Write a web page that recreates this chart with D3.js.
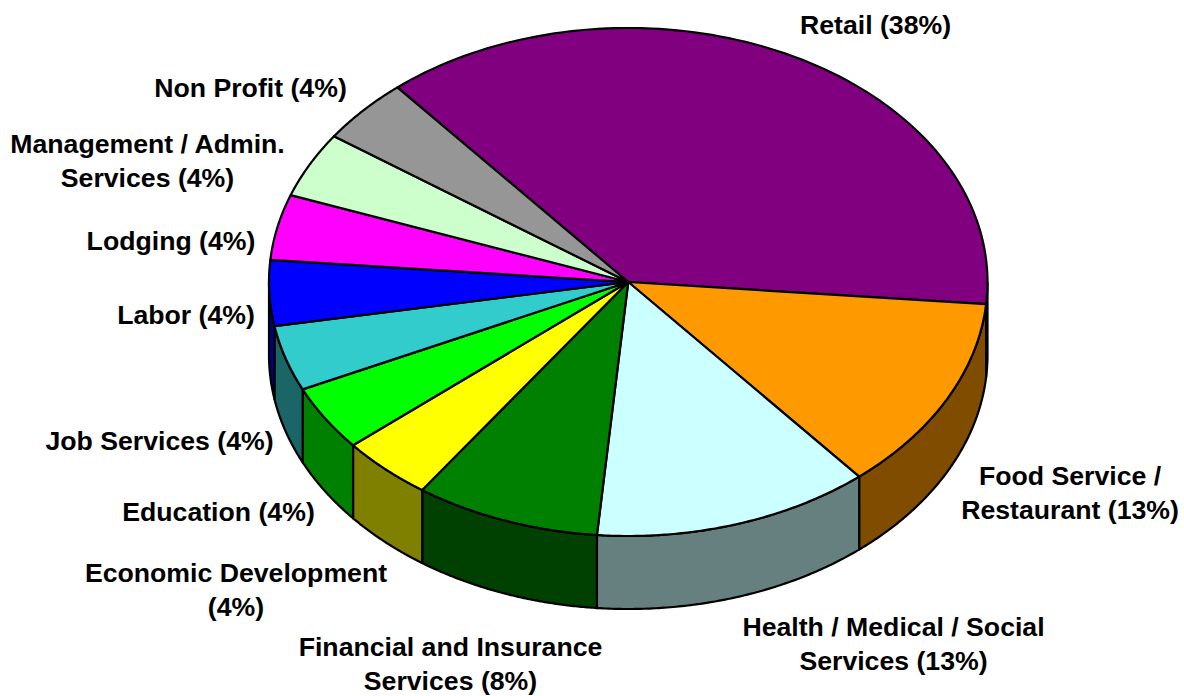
<!DOCTYPE html>
<html><head><meta charset="utf-8"><style>html,body{margin:0;background:#fff}svg{display:block}text{font-family:"Liberation Sans",Arial,sans-serif;font-weight:700;font-size:26.67px;fill:#000;text-anchor:middle}</style>
<script src="https://cdn.jsdelivr.net/npm/d3@7"></script></head><body><script>
const categories=["Retail (38%)","Food Service /\nRestaurant (13%)","Health / Medical / Social\nServices (13%)","Financial and Insurance\nServices (8%)","Economic Development\n(4%)","Education (4%)","Job Services (4%)","Labor (4%)","Lodging (4%)","Management / Admin.\nServices (4%)","Non Profit (4%)"];
const counts=[9,3,3,2,1,1,1,1,1,1,1];
const topColors=["#800080","#ff9900","#ccffff","#008000","#ffff00","#00ff00","#33cccc","#0000ff","#ff00ff","#ccffcc","#969696"];
const labelX=[875.5,1070,893.5,450.5,236,218.5,159.5,186,171,147.5,250.5];
const labelY=[25,476,627,647,573,512,441,315,241,144,88];
const W=1184,H=696;
const svg=d3.select("body").append("svg").attr("width",W).attr("height",H);
const x=d3.scaleLinear().domain([-1,1]).range([269,987.5]);
const y=d3.scaleLinear().domain([1,-1]).range([28,536]);
const depthPx=73;
const arcs=d3.pie().value(d=>d).sort(null).startAngle(-40*Math.PI/180).endAngle(320*Math.PI/180)(counts);
const pt=(a,dy=0)=>[x(Math.sin(a)),y(Math.cos(a))+dy];
const samples=(a0,a1,dy=0)=>d3.range(0,97).map(i=>pt(a0+(a1-a0)*i/96,dy));
const line=d3.line();
const front=arcs.map((d,i)=>({a0:Math.max(d.startAngle,Math.PI/2),a1:Math.min(d.endAngle,Math.PI*1.5),i})).filter(d=>d.a1>d.a0);
svg.selectAll("path.side").data(front).join("path").attr("class","side")
 .attr("d",d=>line(samples(d.a0,d.a1).concat(samples(d.a1,d.a0,depthPx)))+"Z")
 .attr("fill",d=>{const c=d3.color(topColors[d.i]);return d3.rgb(c.r/2,c.g/2,c.b/2)})
 .attr("stroke","#000").attr("stroke-width",2.2).attr("stroke-linejoin","round");
svg.selectAll("path.top").data(arcs).join("path").attr("class","top")
 .attr("d",d=>line([[x(0),y(0)]].concat(samples(d.startAngle,d.endAngle)))+"Z")
 .attr("fill",(d,i)=>topColors[i])
 .attr("stroke","#000").attr("stroke-width",2.2).attr("stroke-linejoin","round");
const t=svg.selectAll("text").data(categories).join("text")
 .attr("transform",(d,i)=>`translate(${labelX[i]},${labelY[i]})`);
t.selectAll("tspan").data(d=>d.split("\n")).join("tspan").attr("x",0).attr("y",(d,i)=>i*34).attr("dy","0.35em").text(d=>d);
</script></body></html>
